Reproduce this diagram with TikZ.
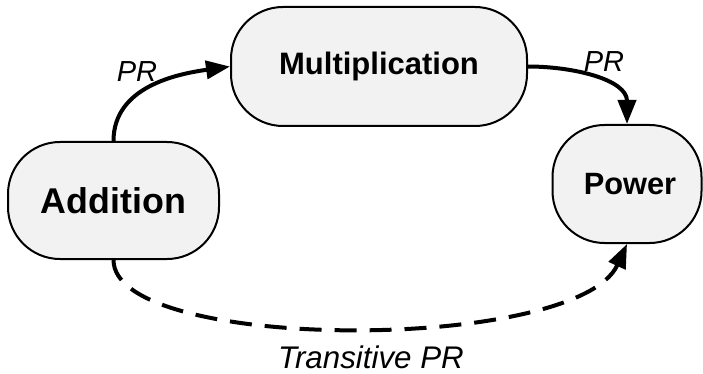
\documentclass[tikz,border=0pt]{standalone}
\usepackage{fontspec}
\setmainfont{Liberation Sans}
\usetikzlibrary{arrows.meta}
\begin{document}
\begin{tikzpicture}[x=1pt,y=1pt,
  box/.style={draw=black, line width=2pt, fill=black!5, rounded corners=52pt, inner sep=0pt, font=\bfseries},
  conn/.style={line width=4pt, -{Triangle[length=24pt,width=18pt]}},
  lbl/.style={font=\itshape\fontsize{29}{34}\selectfont, inner sep=0pt}]
\useasboundingbox (0,0) rectangle (703,-374);
\node[box, minimum width=296pt, minimum height=119pt, font=\bfseries\fontsize{31}{36}\selectfont] (mul) at (379,-66.5) {Multiplication};
\node[box, minimum width=211pt, minimum height=117pt, font=\bfseries\fontsize{35.8}{40}\selectfont] (add) at (113.5,-200.5) {Addition};
\node[box, minimum width=149pt, minimum height=118pt, font=\bfseries\fontsize{30.8}{35}\selectfont] (pow) at (627,-184) {\hspace{6pt}Power};
\draw[conn] (add.north) to[out=90, in=188] (mul.west);
\draw[conn] (mul.east) to[out=0, in=90] (pow.north);
\draw[conn, dash pattern=on 22pt off 13pt] (add.south) .. controls +(0,-93) and +(-50,-109) .. (pow.south);
\node[lbl] (l1) at (137,-72) {PR};
\node[lbl] (l2) at (604,-62) {PR};
\node[lbl, font=\itshape\fontsize{31.3}{36}\selectfont] (l3) at (371,-357) {Transitive PR};
\end{tikzpicture}
\end{document}
